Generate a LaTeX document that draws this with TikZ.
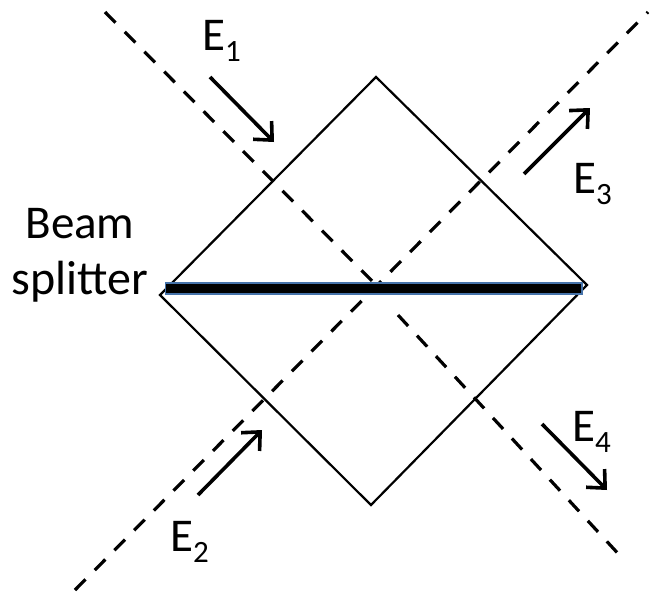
\documentclass[tikz,border=0pt]{standalone}
\usepackage{fontspec}
\setmainfont{Carlito}
\usetikzlibrary{arrows.meta}
\definecolor{bsblue}{RGB}{70,115,170}
\newcommand{\subs}[1]{\raisebox{-11pt}{\fontsize{31}{33}\selectfont #1}}
\begin{document}
\begin{tikzpicture}[x=1pt,y=-1pt,
 outline/.style={draw=black,line width=2.2pt},
 ray/.style={draw=black,line width=3.2pt,dash pattern=on 15pt off 13pt},
 dir/.style={draw=black,line width=3.6pt,-{Straight Barb[length=14pt,width=26pt,line width=3.6pt]}},
 lab/.style={font=\fontsize{47}{50}\selectfont,inner sep=0pt,text=black}]
\useasboundingbox (0,0) rectangle (659,592);
\coordinate (T) at (376,77);
\coordinate (R) at (587,285);
\coordinate (B) at (371,505);
\coordinate (L) at (160,295);
\draw[outline] (T) -- (R) -- (B) -- (L) -- cycle;
\coordinate (a1) at (105,12);
\coordinate (a2) at (376,285);
\coordinate (a3) at (398,315);
\coordinate (a4) at (624,560);
\coordinate (b1) at (75,590);
\coordinate (b2) at (648,12);
\draw[ray] (a1) -- (a2);
\draw[ray] (a3) -- (a4);
\draw[ray] (b1) -- (b2);
\fill[bsblue] (164.5,282) rectangle (582.5,295);
\fill[black] (166,284) rectangle (581,293);
\coordinate (e1s) at (210,77); \coordinate (e1e) at (274,142);
\coordinate (e2s) at (198,495); \coordinate (e2e) at (262,430);
\coordinate (e3s) at (524,174); \coordinate (e3e) at (590,108);
\coordinate (e4s) at (542,424); \coordinate (e4e) at (607,490);
\draw[dir] (e1s) -- (e1e);
\draw[dir] (e2s) -- (e2e);
\draw[dir] (e3s) -- (e3e);
\draw[dir] (e4s) -- (e4e);
\node[lab,anchor=base west] (n1) at (202,50) {E\subs{1}};
\node[lab,anchor=base west] (n2) at (170,551) {E\subs{2}};
\node[lab,anchor=base west] (n3) at (573,193) {E\subs{3}};
\node[lab,anchor=base west] (n4) at (572,441) {E\subs{4}};
\node[lab,anchor=base] (bs1) at (80,238) {Beam};
\node[lab,anchor=base,font=\fontsize{48}{50}\selectfont] (bs2) at (80,294) {splitter};
\end{tikzpicture}
\end{document}
